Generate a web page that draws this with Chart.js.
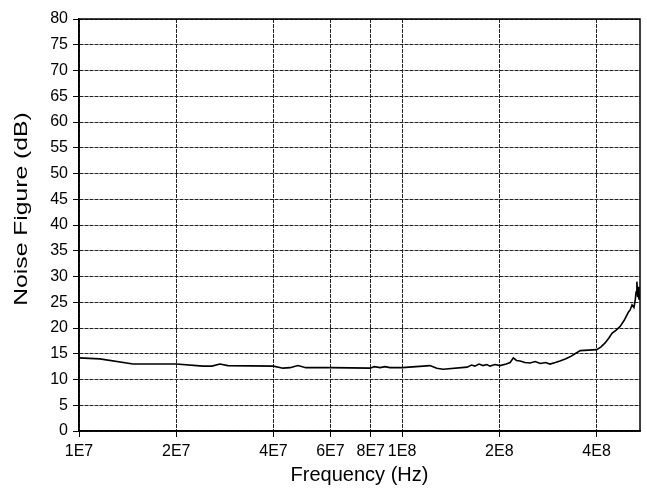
<!DOCTYPE html>
<html>
<head>
<meta charset="utf-8">
<script src="https://cdn.jsdelivr.net/npm/chart.js@4.4.1/dist/chart.umd.min.js"></script>
<style>
  html, body { margin: 0; padding: 0; background: #fff; }
  #wrap { width: 647px; height: 491px; }
</style>
</head>
<body>
<div id="wrap"><canvas id="nfChart"></canvas></div>
<script>
// noise figure vs frequency, log x axis

var freqHz = [1.0e7, 1.16e7, 1.47e7, 2.0e7, 2.42e7, 2.58e7, 2.73e7, 2.89e7, 4.0e7,
  4.28e7, 4.5e7, 4.76e7, 5.04e7, 6.0e7, 7.96e7, 8.2e7, 8.55e7, 8.85e7, 9.18e7, 1.0e8,
  1.22e8, 1.28e8, 1.34e8, 1.59e8, 1.64e8, 1.68e8, 1.73e8, 1.78e8, 1.83e8, 1.87e8, 1.94e8,
  2.01e8, 2.1e8, 2.16e8, 2.21e8, 2.26e8, 2.32e8, 2.4e8, 2.49e8, 2.58e8, 2.68e8, 2.78e8,
  2.87e8, 2.98e8, 3.08e8, 3.2e8, 3.31e8, 3.43e8, 3.56e8, 3.77e8, 4.0e8, 4.12e8, 4.25e8,
  4.36e8, 4.47e8, 4.6e8, 4.73e8, 4.87e8, 5.01e8, 5.08e8, 5.15e8, 5.22e8, 5.27e8, 5.3e8,
  5.33e8, 5.36e8, 5.38e8, 5.41e8, 5.45e8];
var noiseDb = [14.2, 14.0, 13.0, 13.0, 12.6, 12.6, 13.0, 12.7, 12.6,
  12.2, 12.3, 12.7, 12.3, 12.3, 12.2, 12.5, 12.3, 12.5, 12.3, 12.3,
  12.7, 12.2, 12.0, 12.4, 12.8, 12.6, 13.0, 12.7, 12.9, 12.6, 12.9,
  12.7, 13.0, 13.3, 14.2, 13.7, 13.6, 13.3, 13.2, 13.5, 13.1, 13.3,
  13.0, 13.3, 13.6, 14.0, 14.4, 15.0, 15.6, 15.7, 15.8, 16.3, 17.1,
  18.0, 19.0, 19.6, 20.3, 21.5, 23.0, 23.5, 24.5, 24.0, 25.5, 27.0,
  29.0, 26.0, 28.0, 25.5, 26.5];

var xTickValues = [1e7, 2e7, 4e7, 6e7, 8e7, 1e8, 2e8, 4e8];
var xTickLabels = ["1E7", "2E7", "4E7", "6E7", "8E7", "1E8", "2E8", "4E8"];
var yMin = 0, yMax = 80, yStep = 5;

var points = [];
for (var i in freqHz) {
  points.push({ x: freqHz[i], y: noiseDb[i] });
}

var fontFam = "'Liberation Sans', Arial, sans-serif";

// solid frame around the plot area + stretched y title
var frame = {
  id: "frame",
  afterDraw: function(chart) {
    var a = chart.chartArea, c = chart.ctx;
    c.save();
    c.strokeStyle = "#000";
    c.lineWidth = 1.5;
    c.strokeRect(a.left, a.top, a.right - a.left, a.bottom - a.top);
    c.restore();

    c.save();
    c.translate(22, 209);
    c.rotate(-Math.PI / 2);
    c.scale(1.3, 1);
    c.font = "19px " + fontFam;
    c.fillStyle = "#000";
    c.textAlign = "center";
    c.textBaseline = "middle";
    c.fillText("Noise Figure (dB)", 0, 0);
    c.restore();
  }
};

var ctx = document.getElementById("nfChart");

var myChart = new Chart(ctx, {
  type: "line",
  data: {
    datasets: [
      {
        label: "Noise Figure",
        data: points,
        borderColor: "#000",
        borderWidth: 1.6,
        pointRadius: 0,
        fill: false,
        tension: 0
      }
    ]
  },
  options: {
    responsive: true,
    maintainAspectRatio: false,
    animation: false,
    layout: { padding: { top: 19, right: 7, left: 0, bottom: 0 } },
    plugins: {
      legend: { display: false },
      tooltip: { enabled: false }
    },
    scales: {
      x: {
        type: "logarithmic",
        min: 1e7,
        max: 5.45e8,
        afterBuildTicks: function(axis) {
          axis.ticks = xTickValues.map(function(v) { return { value: v }; });
        },
        afterFit: function(axis) { axis.height = 60; },
        ticks: {
          autoSkip: false,
          maxRotation: 0,
          color: "#000",
          font: { family: fontFam, size: 16 },
          padding: 5,
          callback: function(value) {
            var k = xTickValues.indexOf(value);
            return k >= 0 ? xTickLabels[k] : "";
          }
        },
        grid: {
          color: "#222",
          lineWidth: 1,
          tickLength: 6,
          tickColor: "#000"
        },
        border: { color: "#000", width: 1.5, dash: [4, 1] },
        title: {
          display: true,
          text: "Frequency (Hz)",
          color: "#000",
          font: { family: fontFam, size: 20 },
          padding: { top: 2 }
        }
      },
      y: {
        type: "linear",
        min: yMin,
        max: yMax,
        afterFit: function(axis) { axis.width = 79; },
        ticks: {
          stepSize: yStep,
          color: "#000",
          font: { family: fontFam, size: 16 },
          padding: 5
        },
        grid: {
          color: "#222",
          lineWidth: 1,
          tickLength: 6,
          tickColor: "#000"
        },
        border: { color: "#000", width: 1.5, dash: [4, 1] }
      }
    }
  },
  plugins: [frame]
});
</script>
</body>
</html>
